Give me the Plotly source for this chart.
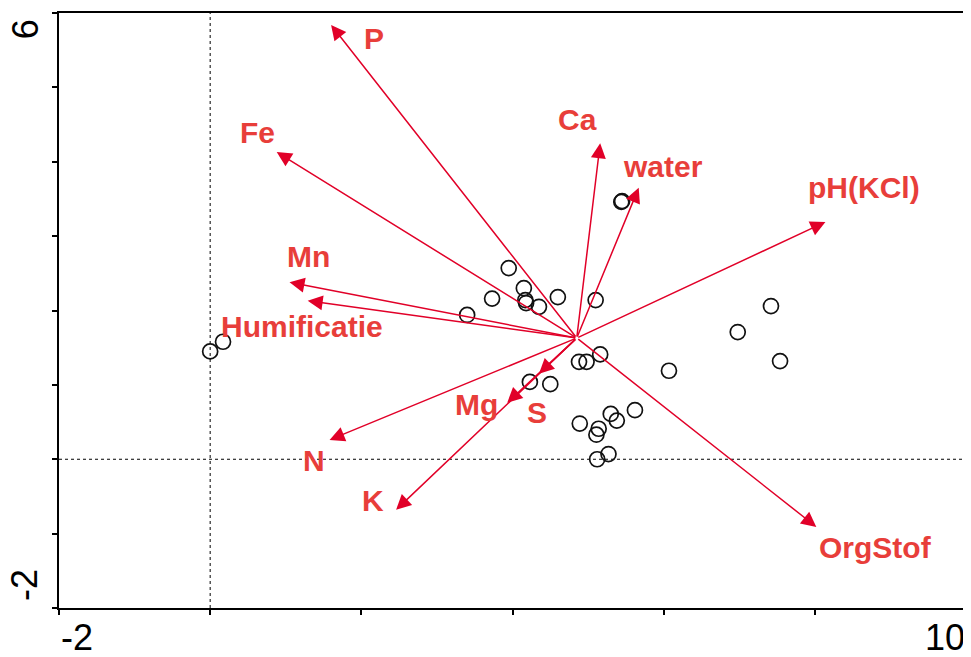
import plotly.graph_objects as go

# ---- data ----
site_x = [5.44, 5.45, 0.00, 0.17, 3.95, 4.15, 4.17, 4.18, 3.73, 4.35, 4.60, 5.10, 3.40,
          4.88, 4.98, 5.16, 4.23, 4.50, 6.07, 6.98, 7.42, 7.54, 4.89, 5.14, 5.11, 5.30,
          5.38, 5.62, 5.12, 5.27]
site_y = [3.46, 3.47, 1.45, 1.58, 2.57, 2.30, 2.14, 2.10, 2.16, 2.05, 2.18, 2.14, 1.94,
          1.31, 1.31, 1.41, 1.04, 1.01, 1.19, 1.71, 2.06, 1.32, 0.48, 0.41, 0.33, 0.61,
          0.52, 0.66, 0.00, 0.07]

arrow_origin = (4.85, 1.63)
var_names = ["P", "Fe", "Ca", "water", "pH(KCl)", "Mn", "Humificatie", "N", "K", "Mg", "S", "OrgStof"]
var_tip_x = [1.60, 0.88, 5.16, 5.67, 8.14, 1.05, 1.29, 1.58, 2.46, 3.93, 4.35, 8.02]
var_tip_y = [5.84, 4.13, 4.25, 3.65, 3.19, 2.38, 2.13, 0.26, -0.68, 0.76, 1.15, -0.91]
label_x = [2.17, 0.63, 4.86, 5.99, 8.65, 1.30, 1.22, 1.38, 2.16, 3.53, 4.32, 8.80]
label_y = [5.66, 4.40, 4.57, 3.93, 3.65, 2.73, 1.79, -0.02, -0.56, 0.74, 0.63, -1.19]

x_range = [-2, 10]
y_range = [-2, 6]
x_ticks = [-2, 0, 2, 4, 6, 8, 10]
y_ticks = [-2, -1, 0, 1, 2, 3, 4, 5, 6]

ARROW_COL = "rgb(225,0,40)"
TEXT_COL = "rgb(232,62,58)"
FONT = "Liberation Sans, Arial, sans-serif"

fig = go.Figure()
fig.add_trace(go.Scatter(
    x=site_x, y=site_y, mode="markers",
    marker=dict(symbol="circle-open", size=15, color="#111111", line=dict(width=1.7)),
    showlegend=False, hoverinfo="skip"))

annotations = []
for nm, tx, ty, lx, ly in zip(var_names, var_tip_x, var_tip_y, label_x, label_y):
    annotations.append(dict(
        x=tx, y=ty, ax=arrow_origin[0], ay=arrow_origin[1],
        xref="x", yref="y", axref="x", ayref="y",
        text="", showarrow=True, arrowhead=2, arrowsize=2.0, arrowwidth=1.5,
        arrowcolor=ARROW_COL, standoff=0))
    annotations.append(dict(
        x=lx, y=ly, xref="x", yref="y", text=nm, showarrow=False,
        xanchor="center", yanchor="middle",
        font=dict(family=FONT, size=30, color=TEXT_COL, weight="bold")))

tick_font = dict(family=FONT, size=36, color="black")
annotations += [
    dict(x=0.0198, y=-0.0504, xref="paper", yref="paper", text="-2", showarrow=False,
         xanchor="center", yanchor="middle", font=tick_font),
    dict(x=0.977, y=-0.0504, xref="paper", yref="paper", text="10", showarrow=False,
         xanchor="center", yanchor="middle", font=tick_font),
    dict(x=-0.0374, y=0.973, xref="paper", yref="paper", text="6", showarrow=False,
         xanchor="center", yanchor="middle", textangle=-90, font=tick_font),
    dict(x=-0.0374, y=0.0387, xref="paper", yref="paper", text="-2", showarrow=False,
         xanchor="center", yanchor="middle", textangle=-90, font=tick_font),
]

shapes = [
    dict(type="line", xref="x", yref="paper", x0=0, x1=0, y0=0, y1=1,
         line=dict(color="black", width=1, dash="3px,3px"), layer="below"),
    dict(type="line", xref="paper", yref="y", x0=0, x1=1, y0=0, y1=0,
         line=dict(color="black", width=1, dash="3px,3px"), layer="below"),
]

fig.update_layout(
    width=963, height=649,
    margin=dict(l=51, r=3, t=5, b=49),
    paper_bgcolor="white", plot_bgcolor="white",
    annotations=annotations, shapes=shapes,
    xaxis=dict(range=x_range, tickvals=x_ticks, showticklabels=False, ticks="outside",
               ticklen=5, tickwidth=1.5, tickcolor="black", showline=True, linewidth=2,
               linecolor="black", mirror=True, showgrid=False, zeroline=False),
    yaxis=dict(range=y_range, tickvals=y_ticks, showticklabels=False, ticks="outside",
               ticklen=5, tickwidth=1.5, tickcolor="black", showline=True, linewidth=2,
               linecolor="black", mirror=True, showgrid=False, zeroline=False),
)

fig.write_html("out.html")
